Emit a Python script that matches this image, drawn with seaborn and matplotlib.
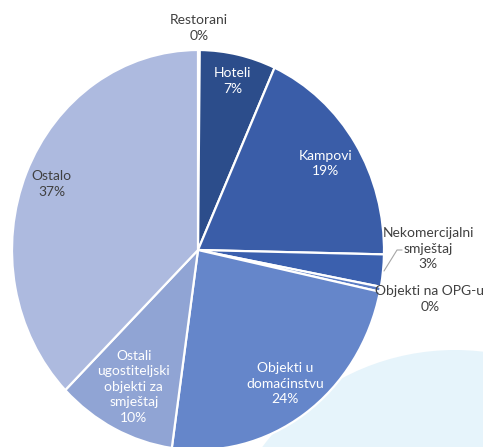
import matplotlib
matplotlib.use("Agg")
import matplotlib.pyplot as plt
from matplotlib.patches import Ellipse
import numpy as np
import seaborn as sns

categories = [
    "Restorani",
    "Hoteli",
    "Kampovi",
    "Nekomercijalni\nsmještaj",
    "Objekti na OPG-u",
    "Objekti u\ndomaćinstvu",
    "Ostali\nugostiteljski\nobjekti za\nsmještaj",
    "Ostalo",
]
shares = [0.15, 6.6, 18.6, 2.6, 0.4, 23.9, 10.4, 37.35]
pct_labels = ["0%", "7%", "19%", "3%", "0%", "24%", "10%", "37%"]

colors = ["#4a6fbd", "#2c4d8b", "#3a5da8", "#3b60ae", "#5a7cc4",
          "#6586ca", "#90a4d4", "#adbadf"]

sns.set_theme(style="white")
plt.rcParams["font.family"] = ["Lato", "DejaVu Sans"]

fig = plt.figure(figsize=(4.83, 4.47), dpi=100)
ax = fig.add_axes([0, 0, 1, 1])

# soft background disc in the lower right
ax.add_patch(Ellipse((455 / 483, 1 - 590 / 447), 480 / 483, 480 / 447,
                     transform=ax.transAxes, facecolor="#e6f4fb",
                     edgecolor="none", zorder=0))

wedges, _ = ax.pie(shares, colors=colors, startangle=90, counterclock=False,
                   wedgeprops=dict(edgecolor="white", linewidth=1.6))
for w in wedges:
    w.set_zorder(2)

ax.set_aspect("auto")
ax.set_xlim(-198 / 186, (483 - 198) / 186)
ax.set_ylim((250 - 447) / 200, 250 / 200)
ax.axis("off")

# radial distance of each label (None = placed by hand)
label_r = [1.11, 0.866, 0.81, None, None, 0.815, 0.765, 0.853]
manual = {3: (1.237, 0.005), 4: (1.247, -0.245)}
inside_white = {1, 2, 5, 6}

for i, w in enumerate(wedges):
    text = f"{categories[i]}\n{pct_labels[i]}"
    if i in manual:
        x, y = manual[i]
    else:
        ang = np.deg2rad((w.theta1 + w.theta2) / 2)
        x, y = label_r[i] * np.cos(ang), label_r[i] * np.sin(ang)
    col = "white" if i in inside_white else "#404040"
    ax.text(x, y, text, ha="center", va="center", fontsize=10,
            color=col, linespacing=1.35, zorder=5)

# leader line for Nekomercijalni smještaj
ax.plot([1.097, 1.07, 1.0], [0.0, 0.0, -0.105], color="#a6a6a6",
        linewidth=0.8, zorder=4)

fig.savefig("out.png", dpi=100)
